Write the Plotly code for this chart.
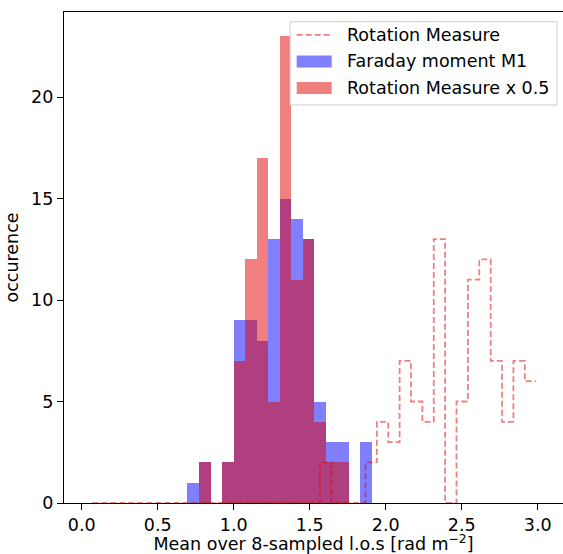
import numpy as np
import plotly.graph_objects as go

# ---- data ----
bin_edges = np.linspace(0.696, 1.907, 17)          # shared bins of the filled histograms
m1_counts = [1, 2, 0, 2, 9, 9, 8, 13, 15, 14, 13, 5, 3, 3, 0, 3]          # Faraday moment M1
rm_half_counts = [0, 2, 0, 2, 7, 12, 17, 5, 23, 11, 13, 4, 2, 2, 0, 0]    # Rotation Measure x 0.5
rm_edges = np.linspace(0.07, 2.99, 40)             # bins of the dashed step histogram
rm_counts = [0] * 20 + [2, 0, 0, 0, 2, 4, 3, 7, 5, 4, 13, 0, 5, 11, 12, 7, 4, 7, 6]  # Rotation Measure

x_ticks = [0.0, 0.5, 1.0, 1.5, 2.0, 2.5, 3.0]
y_ticks = [0, 5, 10, 15, 20]

# ---- styles ----
BLUE = "rgba(0,0,255,0.5)"
RED = "rgba(225,0,0,0.5)"
FONT = "DejaVu Sans"
FS = 17.5

W, H = 563, 554
ML, MR, MT, MB = 64, 0, 12, 51

centers = (bin_edges[:-1] + bin_edges[1:]) / 2
widths = np.diff(bin_edges)

fig = go.Figure()
fig.add_trace(go.Scatter(
    x=list(rm_edges), y=rm_counts + [rm_counts[-1]],
    mode="lines", line=dict(shape="hv", color=RED, width=1.8, dash="6px,3px"),
    name="Rotation Measure", showlegend=False, hoverinfo="skip"))
fig.add_trace(go.Bar(
    x=centers, y=m1_counts, width=widths, marker=dict(color=BLUE, line=dict(width=0)),
    name="Faraday moment M1", showlegend=False))
fig.add_trace(go.Bar(
    x=centers, y=rm_half_counts, width=widths, marker=dict(color=RED, line=dict(width=0)),
    name="Rotation Measure x 0.5", showlegend=False))

plot_w = W - ML - MR
plot_h = H - MT - MB
px_per_x = 152.0
x0_px = 81.7 - ML  # pixel offset of x=0 from left edge of plot
x_lo = -x0_px / px_per_x
x_hi = x_lo + plot_w / px_per_x
px_per_y = 20.3
y_hi = plot_h / px_per_y


def px2paper(px, py):
    return (px - ML) / plot_w, (H - MB - py) / plot_h


shapes = []
annotations = []
# legend frame
bx0, by0 = px2paper(290, 105)
bx1, by1 = px2paper(557, 21.7)
shapes.append(dict(type="rect", xref="paper", yref="paper", x0=bx0, y0=by0, x1=bx1, y1=by1,
                   line=dict(color="#cccccc", width=1), fillcolor="rgba(255,255,255,0.8)", layer="above"))
# legend entries
rows = [("Rotation Measure", 34.8, "line", RED),
        ("Faraday moment M1", 61.5, "patch", BLUE),
        ("Rotation Measure x 0.5", 88.0, "patch", RED)]
for label, cy, kind, col in rows:
    sx0, sy = px2paper(296.7, cy)
    sx1, _ = px2paper(331.7, cy)
    if kind == "line":
        shapes.append(dict(type="line", xref="paper", yref="paper", x0=sx0, x1=sx1, y0=sy, y1=sy,
                           line=dict(color=col, width=1.8, dash="6px,3px"), layer="above"))
    else:
        _, py0 = px2paper(0, cy + 6)
        _, py1 = px2paper(0, cy - 6)
        shapes.append(dict(type="rect", xref="paper", yref="paper", x0=sx0, x1=sx1, y0=py0, y1=py1,
                           line=dict(width=0), fillcolor=col, layer="above"))
    tx, ty = px2paper(345, cy)
    annotations.append(dict(text=label, xref="paper", yref="paper", x=tx, y=ty,
                            xanchor="left", yanchor="middle", showarrow=False,
                            font=dict(family=FONT, size=FS, color="#000")))

fig.update_layout(
    width=W, height=H,
    margin=dict(l=ML, r=MR, t=MT, b=MB),
    paper_bgcolor="white", plot_bgcolor="white",
    barmode="overlay", bargap=0,
    font=dict(family=FONT, size=FS, color="#000"),
    showlegend=False,
    shapes=shapes, annotations=annotations,
    xaxis=dict(range=[x_lo, x_hi], tickvals=x_ticks, ticktext=[f"{v:.1f}" for v in x_ticks],
               showgrid=False, zeroline=False, showline=True, linecolor="#000", linewidth=1.3,
               mirror=True, ticks="outside", ticklen=6, tickwidth=1.3, tickcolor="#000",
               tickfont=dict(family=FONT, size=FS),
               title=dict(text="Mean over 8-sampled l.o.s [rad m<sup>−2</sup>]",
                          font=dict(family=FONT, size=FS), standoff=5)),
    yaxis=dict(range=[0, y_hi], tickvals=y_ticks,
               showgrid=False, zeroline=False, showline=True, linecolor="#000", linewidth=1.3,
               ticks="outside", ticklen=6, tickwidth=1.3, tickcolor="#000",
               tickfont=dict(family=FONT, size=FS),
               title=dict(text="occurence", font=dict(family=FONT, size=FS), standoff=7)),
)

fig.write_html("out.html")
